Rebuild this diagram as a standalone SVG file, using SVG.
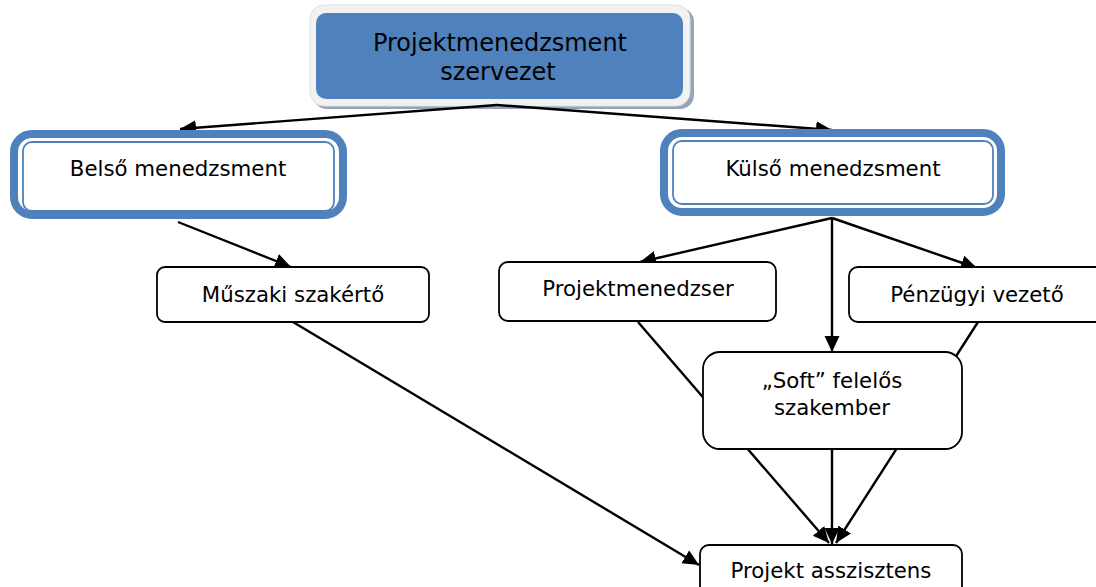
<svg xmlns="http://www.w3.org/2000/svg" width="1096" height="587" viewBox="0 0 1096 587">
<defs>
<style>
.t{font-family:"DejaVu Sans","Verdana",sans-serif;fill:#000;text-anchor:middle}
.box{fill:#fff;stroke:#000;stroke-width:1.8}
.ob{fill:#fff;stroke:#4f81bd;stroke-width:8}
.ib{fill:none;stroke:#4f81bd;stroke-width:1.8}
.c{fill:none;stroke:#000;stroke-width:2.4}
</style>
<marker id="ah" markerUnits="userSpaceOnUse" markerWidth="18" markerHeight="16" refX="16" refY="7.5" orient="auto">
<path d="M0,0 L16,7.5 L0,15 z" fill="#000"/>
</marker>
</defs>
<rect width="1096" height="587" fill="#fff"/>
<g id="n-top">
<rect x="313" y="8" width="381" height="101" rx="14" fill="#97a3b6"/>
<rect x="310" y="5" width="380" height="101" rx="14" fill="#f2f2f2" stroke="#e0e0e0" stroke-width="1"/>
<rect x="316" y="13" width="367" height="86" rx="10" fill="#4f81bd"/>
<text class="t" x="500" y="51" font-size="24">Projektmenedzsment</text>
<text class="t" x="498" y="80" font-size="24">szervezet</text>
</g>
<g id="connectors">
<line class="c" x1="497" y1="105" x2="180" y2="129" marker-end="url(#ah)"/>
<line class="c" x1="497" y1="105" x2="832" y2="130" marker-end="url(#ah)"/>
<line class="c" x1="178" y1="222" x2="291" y2="267" marker-end="url(#ah)"/>
<line class="c" x1="832" y1="218" x2="640" y2="262" marker-end="url(#ah)"/>
<line class="c" x1="832" y1="218" x2="832" y2="352" marker-end="url(#ah)"/>
<line class="c" x1="832" y1="218" x2="977" y2="268" marker-end="url(#ah)"/>
<line class="c" x1="293" y1="322" x2="699" y2="565" marker-end="url(#ah)"/>
<line class="c" x1="638" y1="322" x2="829" y2="543" marker-end="url(#ah)"/>
<line class="c" x1="832" y1="449" x2="832" y2="544" marker-end="url(#ah)"/>
<line class="c" x1="978" y1="322" x2="836" y2="543" marker-end="url(#ah)"/>
</g>
<g id="n-belso">
<rect class="ob" x="14" y="134" width="329" height="81" rx="18"/>
<rect class="ib" x="23" y="142" width="311" height="69" rx="9"/>
<text class="t" x="178" y="176" font-size="21.3">Belső menedzsment</text>
</g>
<g id="n-kulso">
<rect class="ob" x="664" y="133" width="337" height="79" rx="18"/>
<rect class="ib" x="673" y="141" width="320" height="63" rx="9"/>
<text class="t" x="833" y="176" font-size="21.3">Külső menedzsment</text>
</g>
<g id="n-muszaki">
<rect class="box" x="157" y="267" width="272" height="55" rx="8"/>
<text class="t" x="293" y="302" font-size="21.3">Műszaki szakértő</text>
</g>
<g id="n-pm">
<rect class="box" x="499" y="262" width="277" height="59" rx="9"/>
<text class="t" x="638" y="296" font-size="21.3">Projektmenedzser</text>
</g>
<g id="n-penz">
<rect class="box" x="849" y="267" width="260" height="55" rx="9"/>
<text class="t" x="977" y="302" font-size="21.3">Pénzügyi vezető</text>
</g>
<g id="n-soft">
<rect class="box" x="703" y="352" width="259" height="97" rx="17"/>
<text class="t" x="832" y="388" font-size="21.3">„Soft” felelős</text>
<text class="t" x="832" y="415" font-size="21.3">szakember</text>
</g>
<g id="n-asszisztens">
<rect class="box" x="700" y="545" width="262" height="60" rx="9"/>
<text class="t" x="831" y="578" font-size="21.3">Projekt asszisztens</text>
</g>
</svg>
